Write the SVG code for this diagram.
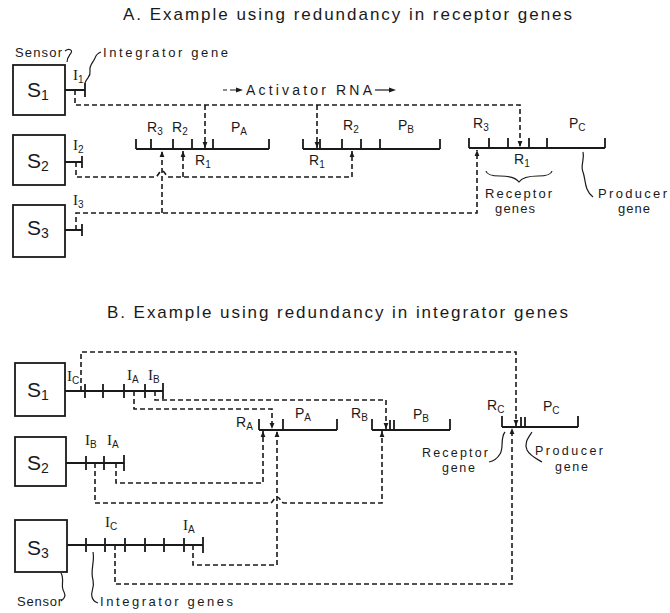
<svg xmlns="http://www.w3.org/2000/svg" width="670" height="613" viewBox="0 0 670 613">
<style>
  text { font-family: "Liberation Sans", Arial, sans-serif; fill: #1a1a1a; }
  .title { font-size: 17px; }
  .lbl { font-size: 14px; }
  .ii { font-family: "Liberation Serif", "Times New Roman", serif; font-size: 15px; }
  .sub { font-size: 10px; font-family: "Liberation Sans", Arial, sans-serif; }
  .note { font-size: 13px; }
  .note2 { font-size: 12.5px; }
  .big { font-size: 21px; }
  .bsub { font-size: 14px; }
  .box { fill: #fff; stroke: #1a1a1a; stroke-width: 1.8; }
  .solid { fill: none; stroke: #1a1a1a; stroke-width: 1.8; }
  .thin { fill: none; stroke: #1a1a1a; stroke-width: 1.2; }
  .dash { fill: none; stroke: #1a1a1a; stroke-width: 1.6; stroke-dasharray: 5 3; }
</style>
<defs>
  <marker id="arr" viewBox="0 0 6 6" refX="6" refY="3" markerWidth="6" markerHeight="6" orient="auto" markerUnits="userSpaceOnUse">
    <path d="M0,0.6 L6,3 L0,5.4 z" fill="#1a1a1a"/>
  </marker>
</defs>
<rect width="670" height="613" fill="#fff"/>

<!-- ============ PANEL A ============ -->
<text class="title" x="123" y="20" textLength="449" lengthAdjust="spacing">A. Example using redundancy in receptor genes</text>

<g id="a-annotations">
  <text class="note" x="15" y="57" textLength="47" lengthAdjust="spacing">Sensor</text>
  <path class="thin" d="M65,51 C69,48 73,50 71,53 C69,56 67,58 67,62"/>
  <text class="note" x="103" y="57" textLength="125" lengthAdjust="spacing">Integrator gene</text>
  <path class="thin" d="M85,83 C87,77 91,77 90,71 C89,65 93,63 95,58 C96,55 98,53 101,52"/>
  <text class="lbl" x="246" y="95" textLength="126" lengthAdjust="spacing">Activator RNA</text>
  <path class="thin" d="M223,90 H227 M230,90 H236" />
  <path d="M236,87.5 L243,90 L236,92.5 z" fill="#1a1a1a"/>
  <path class="thin" d="M375,90 H389"/>
  <path d="M389,87.5 L396,90 L389,92.5 z" fill="#1a1a1a"/>
</g>

<g id="a-sensor-1">
  <rect class="box" x="13" y="65" width="52" height="50"/>
  <text class="big" x="27" y="97">S<tspan class="bsub" dy="3">1</tspan></text>
  <path class="solid" d="M65,90 H85 M85,83 V97"/>
  <text class="ii" x="73" y="80">I<tspan class="sub" dy="3">1</tspan></text>
</g>
<g id="a-sensor-2">
  <rect class="box" x="13" y="135" width="52" height="50"/>
  <text class="big" x="27" y="168">S<tspan class="bsub" dy="3">2</tspan></text>
  <path class="solid" d="M65,162 H82 M82,156 V168"/>
  <text class="ii" x="73" y="150">I<tspan class="sub" dy="3">2</tspan></text>
</g>
<g id="a-sensor-3">
  <rect class="box" x="13" y="205" width="52" height="52"/>
  <text class="big" x="27" y="235">S<tspan class="bsub" dy="3">3</tspan></text>
  <path class="solid" d="M65,230 H82 M82,224 V236"/>
  <text class="ii" x="73" y="205">I<tspan class="sub" dy="3">3</tspan></text>
</g>

<g id="a-gene-A">
  <path class="solid" d="M136,149 H269 M136,139 V149 M151,139 V149 M173,139 V149 M192,139 V149 M213,139 V149 M269,139 V149"/>
  <text class="lbl" x="147" y="132">R<tspan class="sub" dy="3">3</tspan></text>
  <text class="lbl" x="172" y="132">R<tspan class="sub" dy="3">2</tspan></text>
  <text class="lbl" x="231" y="132">P<tspan class="sub" dy="3">A</tspan></text>
  <text class="lbl" x="195" y="165">R<tspan class="sub" dy="3">1</tspan></text>
</g>
<g id="a-gene-B">
  <path class="solid" d="M303,149 H440 M303,139 V149 M320,139 V149 M342,139 V149 M361,139 V149 M380,139 V149 M440,139 V149"/>
  <text class="lbl" x="343" y="130">R<tspan class="sub" dy="3">2</tspan></text>
  <text class="lbl" x="398" y="130">P<tspan class="sub" dy="3">B</tspan></text>
  <text class="lbl" x="309" y="165">R<tspan class="sub" dy="3">1</tspan></text>
</g>
<g id="a-gene-C">
  <path class="solid" d="M469,148 H605 M469,138 V148 M489,138 V148 M508,138 V148 M529,138 V148 M547,138 V148 M605,138 V148"/>
  <text class="lbl" x="473" y="128">R<tspan class="sub" dy="3">3</tspan></text>
  <text class="lbl" x="569" y="128">P<tspan class="sub" dy="3">C</tspan></text>
  <text class="lbl" x="514" y="164">R<tspan class="sub" dy="3">1</tspan></text>
  <path class="thin" d="M486,171 Q487,176 500,176 Q515,176 519,182 Q523,176 538,176 Q551,176 552,171"/>
  <text class="note" x="485" y="198" textLength="67" lengthAdjust="spacing">Receptor</text>
  <text class="note" x="495" y="213" textLength="40" lengthAdjust="spacing">genes</text>
  <path class="thin" d="M583,152 C585,160 580,165 583,172 C586,180 584,190 593,197"/>
  <text class="note" x="598" y="198" textLength="69" lengthAdjust="spacing">Producer</text>
  <text class="note" x="618" y="213" textLength="32" lengthAdjust="spacing">gene</text>
</g>

<g id="a-connectors">
  <path class="dash" d="M75,90 V105 H520 V147" marker-end="url(#arr)"/>
  <path class="dash" d="M205,105 V148" marker-end="url(#arr)"/>
  <path class="dash" d="M317,105 V148" marker-end="url(#arr)"/>
  <path class="dash" d="M76,162 V177 H155 C158,177 159,171 162,171 C165,171 166,177 169,177 H352 V151" marker-end="url(#arr)"/>
  <path class="dash" d="M183,177 V151" marker-end="url(#arr)"/>
  <path class="dash" d="M76,230 V213 H477 V150" marker-end="url(#arr)"/>
  <path class="dash" d="M162,213 V151" marker-end="url(#arr)"/>
</g>

<!-- ============ PANEL B ============ -->
<text class="title" x="107" y="318" textLength="461" lengthAdjust="spacing">B. Example using redundancy in integrator genes</text>

<g id="b-sensor-1">
  <rect class="box" x="15" y="363" width="50" height="53"/>
  <text class="big" x="27" y="397">S<tspan class="bsub" dy="3">1</tspan></text>
  <path class="solid" d="M65,391 H163 M85,384 V398 M103,384 V398 M124,384 V398 M145,384 V398 M163,383 V399"/>
  <text class="ii" x="67" y="381">I<tspan class="sub" dy="3" font-size="9">C</tspan></text>
  <text class="ii" x="127" y="380">I<tspan class="sub" dy="3">A</tspan></text>
  <text class="ii" x="148" y="380">I<tspan class="sub" dy="3">B</tspan></text>
</g>
<g id="b-sensor-2">
  <rect class="box" x="15" y="437" width="51" height="49"/>
  <text class="big" x="27" y="470">S<tspan class="bsub" dy="3">2</tspan></text>
  <path class="solid" d="M66,463 H124 M86,456 V470 M104,456 V470 M124,455 V471"/>
  <text class="ii" x="85" y="445">I<tspan class="sub" dy="3">B</tspan></text>
  <text class="ii" x="107" y="445">I<tspan class="sub" dy="3">A</tspan></text>
</g>
<g id="b-sensor-3">
  <rect class="box" x="15" y="520" width="52" height="52"/>
  <text class="big" x="27" y="555">S<tspan class="bsub" dy="3">3</tspan></text>
  <path class="solid" d="M67,545 H203 M86,538 V552 M105,538 V552 M125,538 V552 M145,538 V552 M164,538 V552 M184,538 V552 M203,537 V553"/>
  <text class="ii" x="105" y="527">I<tspan class="sub" dy="3">C</tspan></text>
  <text class="ii" x="183" y="530">I<tspan class="sub" dy="3">A</tspan></text>
</g>

<g id="b-annotations">
  <text class="note" x="17" y="606" textLength="45" lengthAdjust="spacing">Sensor</text>
  <path class="thin" d="M61,573 C65,580 60,586 64,592 C66,596 64,599 61,601"/>
  <text class="note" x="100" y="606" textLength="133" lengthAdjust="spacing">Integrator genes</text>
  <path class="thin" d="M93,552 C95,562 90,570 93,580 C95,588 90,592 92,597 C93,601 95,602 98,603"/>
</g>

<g id="b-gene-A">
  <path class="solid" d="M259,430 H337 M259,419 V430 M283,419 V430 M337,419 V430"/>
  <text class="lbl" x="236" y="427">R<tspan class="sub" dy="3">A</tspan></text>
  <text class="lbl" x="295" y="418">P<tspan class="sub" dy="3">A</tspan></text>
</g>
<g id="b-gene-B">
  <path class="solid" d="M372,430 H450 M372,419 V430 M390,420 V430 M394,420 V430 M450,419 V430"/>
  <text class="lbl" x="351" y="418">R<tspan class="sub" dy="3">B</tspan></text>
  <text class="lbl" x="413" y="419">P<tspan class="sub" dy="3">B</tspan></text>
</g>
<g id="b-gene-C">
  <path class="solid" d="M502,427 H578 M502,416 V427 M521,417 V427 M525,417 V427 M578,416 V427"/>
  <text class="lbl" x="487" y="410">R<tspan class="sub" dy="3">C</tspan></text>
  <text class="lbl" x="543" y="411">P<tspan class="sub" dy="3">C</tspan></text>
  <path class="thin" d="M505,432 C500,438 504,448 500,454 C497,459 494,461 489,462"/>
  <text class="note2" x="422" y="457" textLength="66" lengthAdjust="spacing">Receptor</text>
  <text class="note2" x="442" y="472" textLength="33" lengthAdjust="spacing">gene</text>
  <path class="thin" d="M532,432 C528,438 524,443 527,450 C530,456 537,459 542,462"/>
  <text class="note2" x="535" y="455" textLength="68" lengthAdjust="spacing">Producer</text>
  <text class="note2" x="555" y="471" textLength="33" lengthAdjust="spacing">gene</text>
</g>

<g id="b-connectors">
  <path class="dash" d="M81,391 V352 H516 V426" marker-end="url(#arr)"/>
  <path class="dash" d="M134,391 V409 H272 V429" marker-end="url(#arr)"/>
  <path class="dash" d="M155,391 V400 H386 V429" marker-end="url(#arr)"/>
  <path class="dash" d="M116,463 V483 H263 V431" marker-end="url(#arr)"/>
  <path class="dash" d="M95,463 V503 H270 C273,503 274,497 277,497 C280,497 281,503 284,503 H382 V431" marker-end="url(#arr)"/>
  <path class="dash" d="M193,545 V565 H277 V431" marker-end="url(#arr)"/>
  <path class="dash" d="M115,545 V584 H512 V428" marker-end="url(#arr)"/>
</g>
</svg>
